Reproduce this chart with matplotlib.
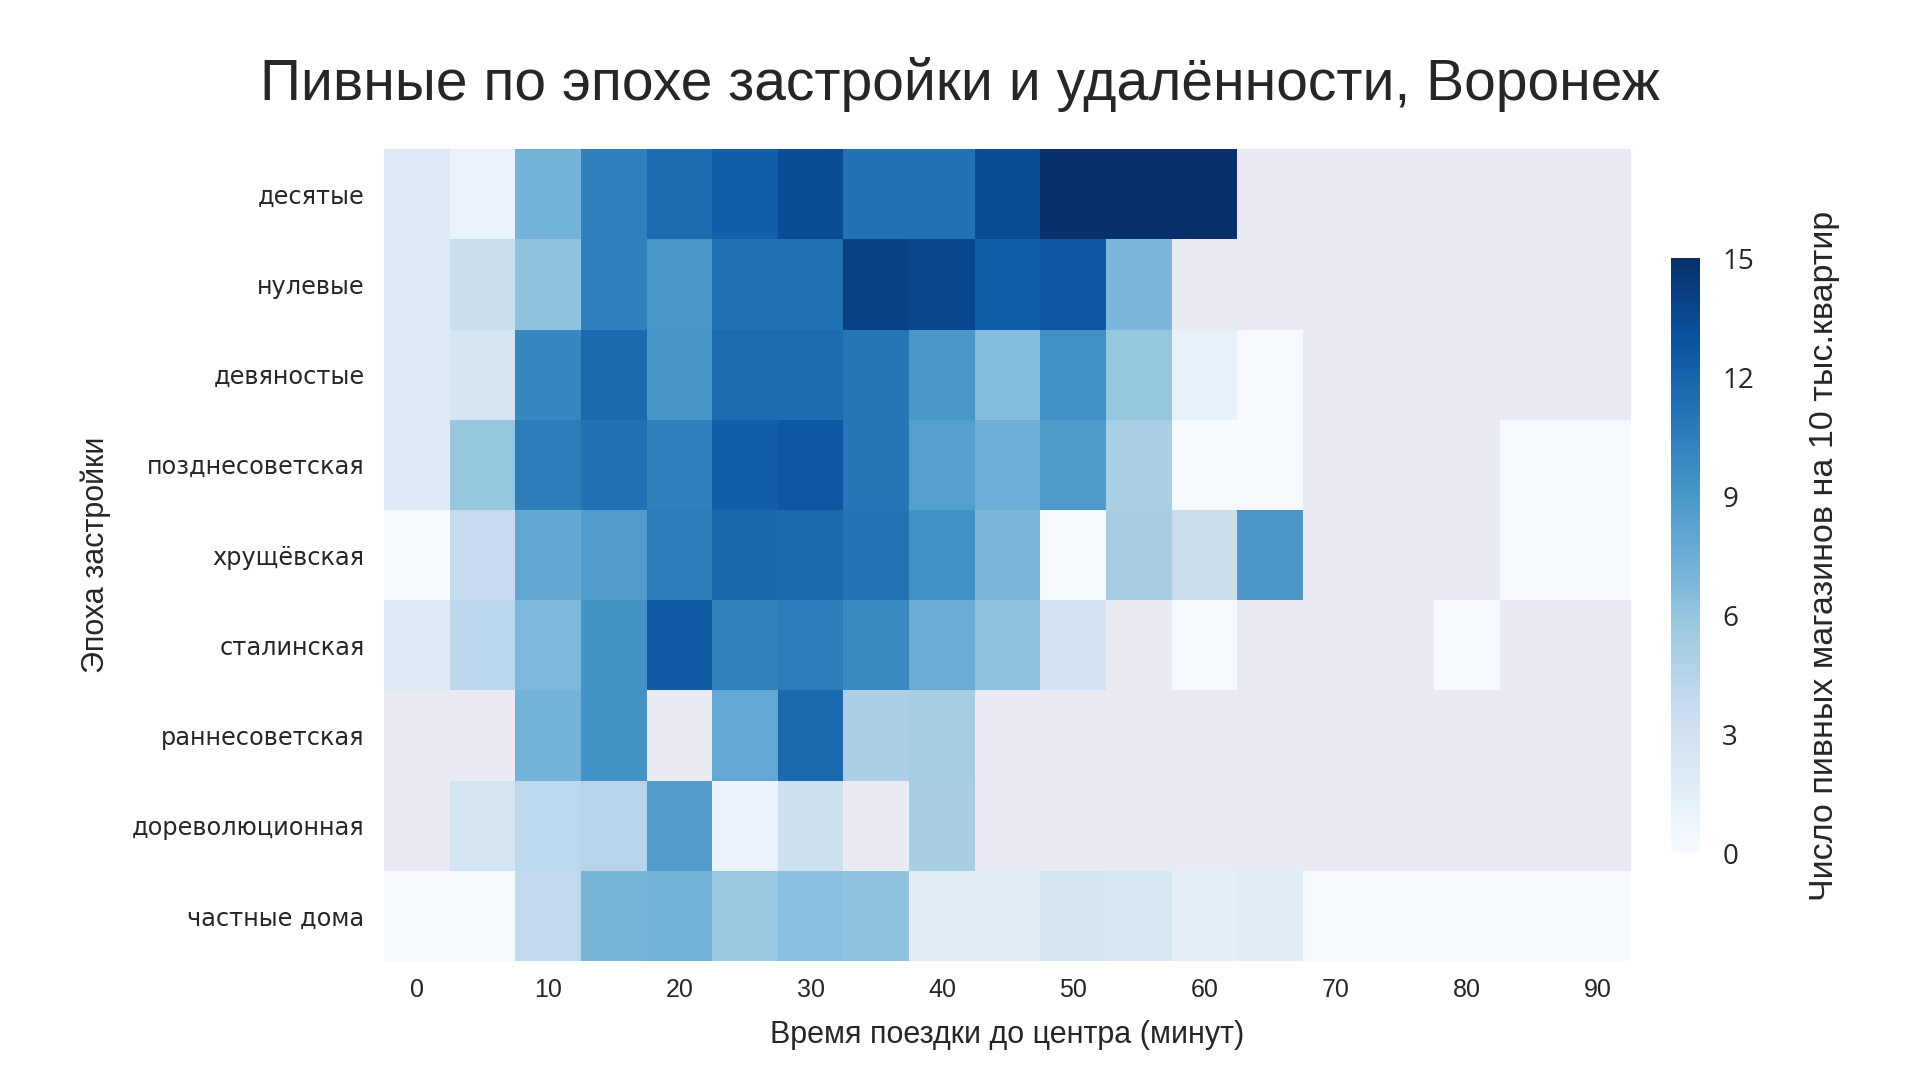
import matplotlib
matplotlib.use('Agg')
import matplotlib.pyplot as plt
import numpy as np

nan = np.nan

# travel time to centre, minutes (column labels)
minutes = [0, 5, 10, 15, 20, 25, 30, 35, 40, 45, 50, 55, 60, 65, 70, 75, 80, 85, 90]

eras = ['десятые', 'нулевые', 'девяностые', 'позднесоветская', 'хрущёвская',
        'сталинская', 'раннесоветская', 'дореволюционная', 'частные дома']

# beer shops per 10k flats, one list per era (nan = no data)
desyatye = [1.9, 1.0, 7.2, 10.4, 11.6, 12.3, 13.4, 11.2, 11.2, 13.4, 15, 15, 15,
            nan, nan, nan, nan, nan, nan]
nulevye = [1.9, 3.4, 6.2, 10.4, 9.0, 11.2, 11.2, 14.0, 13.7, 12.3, 12.7, 6.9, nan,
           nan, nan, nan, nan, nan, nan]
devyanostye = [1.9, 2.6, 10.0, 11.7, 9.1, 11.6, 11.5, 11.0, 9.0, 6.6, 9.4, 5.9, 1.2,
               0.1, nan, nan, nan, nan, nan]
pozdnesov = [1.9, 5.9, 10.6, 11.2, 10.4, 12.3, 12.7, 11.0, 8.5, 7.4, 8.8, 5.1, 0.1,
             0.1, nan, nan, nan, 0.1, 0.1]
hrusch = [0.1, 3.8, 7.9, 8.7, 10.6, 11.8, 11.7, 11.1, 9.4, 6.9, 0.1, 5.2, 3.4,
          9.0, nan, nan, nan, 0.1, 0.1]
stalin = [1.9, 4.3, 6.8, 9.3, 12.5, 10.2, 10.6, 9.8, 7.6, 6.2, 2.8, nan, 0.1,
          nan, nan, nan, 0.1, nan, nan]
rannesov = [nan, nan, 7.2, 9.3, nan, 7.8, 11.7, 5.0, 5.3, nan, nan, nan, nan,
            nan, nan, nan, nan, nan, nan]
dorev = [nan, 2.7, 4.2, 4.5, 8.7, 1.0, 3.2, nan, 5.2, nan, nan, nan, nan,
         nan, nan, nan, nan, nan, nan]
chastnye = [0.1, 0.1, 4.0, 7.0, 7.2, 5.8, 6.4, 6.2, 1.6, 1.6, 2.6, 2.4, 1.4,
            1.6, 0.1, 0.1, 0.1, 0.1, 0.1]

data = np.array([desyatye, nulevye, devyanostye, pozdnesov, hrusch,
                 stalin, rannesov, dorev, chastnye])

text_col = '#262626'
narrow = ['Liberation Sans', 'DejaVu Sans']
wide = ['DejaVu Sans']

fig = plt.figure(figsize=(19.2, 10.8), dpi=100)
ax = fig.add_axes([0.2, 0.110, 0.6495, 0.752])
ax.set_facecolor('#EAEAF2')
mesh = ax.pcolormesh(np.ma.masked_invalid(data), cmap='Blues', vmin=0, vmax=15)
ax.set_xlim(0, len(minutes))
ax.set_ylim(len(eras), 0)
for s in ax.spines.values():
    s.set_visible(False)

xt = np.arange(0, len(minutes), 2)
ax.set_xticks(xt + 0.5)
ax.set_xticklabels([str(minutes[i]) for i in xt], family=narrow, fontsize=18, color=text_col)
ax.set_yticks(np.arange(len(eras)) + 0.5)
ax.set_yticklabels(eras, family=wide, fontsize=17.3, color=text_col)
ax.tick_params(axis='x', length=0, pad=12)
ax.tick_params(axis='y', length=0, pad=14)
ax.set_xlabel('Время поездки до центра (минут)', family=narrow, fontsize=22, color=text_col, labelpad=13)
ax.set_ylabel('Эпоха застройки', family=narrow, fontsize=22, color=text_col, labelpad=15)
fig.text(0.5, 1 - 100 / 1080, 'Пивные по эпохе застройки и удалённости, Воронеж',
         family=narrow, fontsize=41, color=text_col, ha='center', va='baseline')

cax = fig.add_axes([0.8703, 0.210, 0.0151, 0.551])
cb = fig.colorbar(mesh, cax=cax, ticks=[0, 3, 6, 9, 12, 15])
cb.outline.set_visible(False)
cax.tick_params(length=0, pad=16)
for t in cax.get_yticklabels():
    t.set_family(['Open Sans', 'DejaVu Sans'])
    t.set_fontsize(20)
    t.set_color(text_col)
cb.set_label('Число пивных магазинов на 10 тыс.квартир', family=narrow, fontsize=24.5,
             color=text_col, labelpad=40)

fig.savefig('out.png', dpi=100, facecolor='white')
